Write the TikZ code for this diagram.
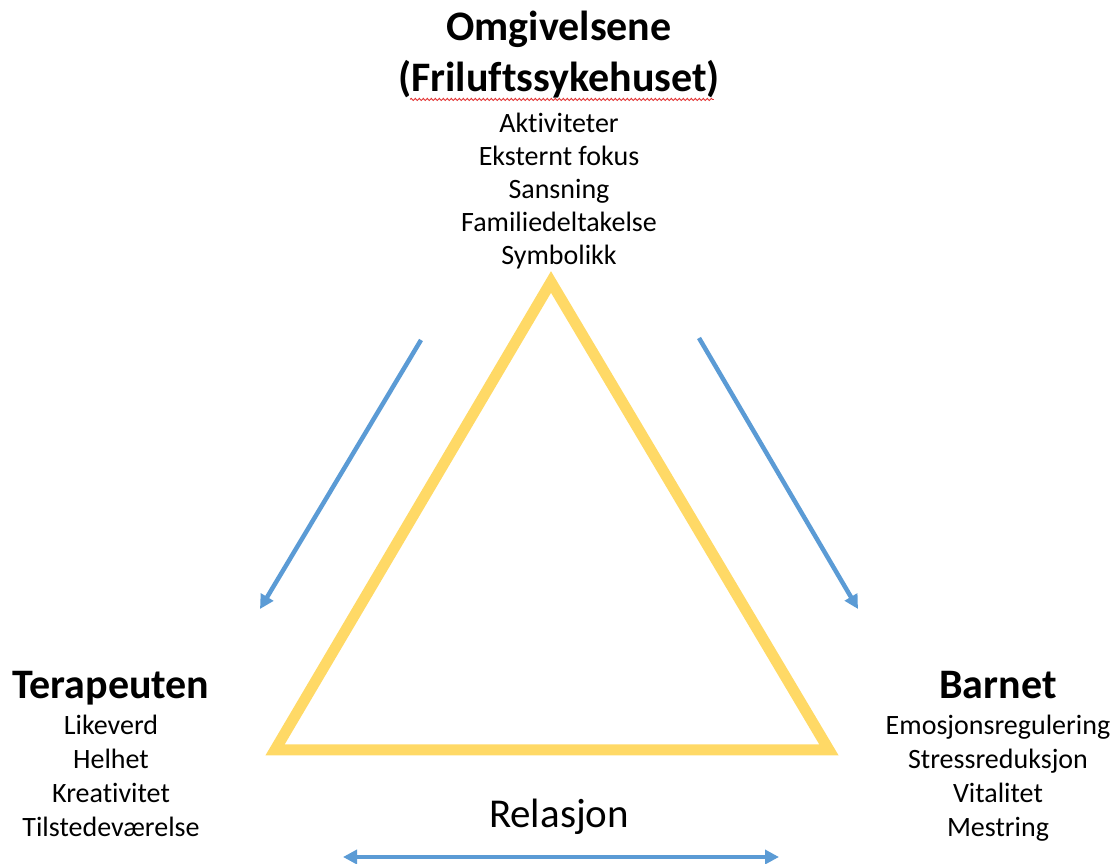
\documentclass[tikz,border=0pt]{standalone}
\usepackage{fontspec}
\setmainfont{Carlito}[Ligatures=NoCommon]
\usetikzlibrary{arrows.meta,positioning,decorations.pathmorphing}
\definecolor{triyellow}{RGB}{255,217,102}
\definecolor{arrowblue}{RGB}{91,155,213}
\definecolor{spellred}{RGB}{226,52,52}

\begin{document}
\begin{tikzpicture}[
    x=1pt, y=1pt,
    heading/.style={font=\bfseries\fontsize{42}{51}\selectfont, align=center, inner sep=0pt},
    items/.style={font=\fontsize{28}{34.3}\selectfont, align=center, inner sep=0pt},
    arrow/.style={-{Triangle[length=14pt,width=14pt]}, line width=4.5pt, arrowblue}
]
\useasboundingbox (0,0) rectangle (1120,863);

% Triangle
\coordinate (apex) at (551,581);
\coordinate (left) at (275,113);
\coordinate (right) at (829,113);
\draw[triyellow, line width=11pt, line join=miter] (apex) -- (left) -- (right) -- cycle;

% Top: surroundings
\node[heading, anchor=north] (env) at (559,852) {Omgivelsene\\(Friluftssykehuset)};
\node[items, font=\fontsize{28}{33}\selectfont, below=14pt of env] (envlist) {Aktiviteter\\Eksternt fokus\\Sansning\\Familiedeltakelse\\Symbolikk};
\draw[spellred, line width=0.9pt, decorate, decoration={snake, amplitude=1.1pt, segment length=4pt}]
    ([xshift=12pt,yshift=-1pt]env.south west) -- ([xshift=-6pt,yshift=-1pt]env.south east);

% Left: therapist
\node[heading, anchor=north] (ther) at (111,192) {Terapeuten};
\node[items, below=16pt of ther.base] (therlist) {Likeverd\\Helhet\\Kreativitet\\Tilstedeværelse};

% Right: child
\node[heading, anchor=north] (child) at (998,192) {Barnet};
\node[items, below=16pt of child.base] (childlist) {Emosjonsregulering\\Stressreduksjon\\Vitalitet\\Mestring};

% Relation
\node[font=\fontsize{41}{48}\selectfont, inner sep=0pt, anchor=base] (rel) at (559,36) {Relasjon};

% Arrows
\coordinate (la) at (421,523);
\coordinate (lb) at (260,254);
\coordinate (ra) at (699,525);
\coordinate (rb) at (858,254);
\coordinate (ba) at (343,6);
\coordinate (bb) at (779,6);
\draw[arrow] (la) -- (lb);
\draw[arrow] (ra) -- (rb);
\draw[arrow, {Triangle[length=14pt,width=14pt]}-{Triangle[length=14pt,width=14pt]}] (ba) -- (bb);
\end{tikzpicture}
\end{document}
